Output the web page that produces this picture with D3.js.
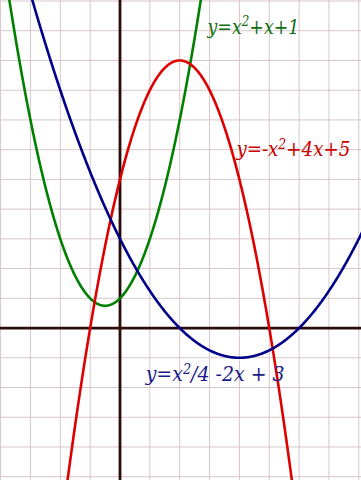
<!DOCTYPE html>
<html>
<head>
<meta charset="utf-8">
<script src="https://cdn.jsdelivr.net/npm/d3@7"></script>
<style>
  html, body { margin: 0; padding: 0; background: #fff; }
  svg { display: block; }
  .grid line { stroke: #d8c6c9; stroke-width: 1; }
  .axis { stroke: #2b0b0b; stroke-width: 2.8; }
  .curve { fill: none; stroke-width: 2.6; }
  .label { font-family: 'DejaVu Serif', serif; font-style: italic; font-size: 20.5px; }
</style>
</head>
<body>
<script>
// Plot window (units) and grid ticks
var xDomain = [-4, 8];
var yDomain = [11, -5];
var xTicks = d3.range(-4, 9);
var yTicks = d3.range(-5, 12);

// Polynomial coefficients [a, b, c] for y = a*x^2 + b*x + c
var names = ['green', 'red', 'blue'];
var coefs = [[1, 1, 1], [-1, 4, 5], [0.25, -2, 3]];
var colors = ['#008000', '#dd0000', '#000088'];
var textColors = ['#0f6e0f', '#c80000', '#1a1a8a'];

// Labels: [before sup, sup, after sup]
var labels = [
  ['y=x', '2', '+x+1'],
  ['y=-x', '2', '+4x+5'],
  ['y=x', '2', '/4 -2x + 3']
];
// label anchor (baseline start) in plot units
var labelPos = [[2.93, 9.9], [3.9, 5.78], [0.86, -1.79]];
// label widths in px
var labelWidths = [92, 114, 139];

var width = 361, height = 480;

var svg = d3.select('body').append('svg')
  .attr('width', width)
  .attr('height', height);

var x = d3.scaleLinear().domain(xDomain).range([0.6, 358.8]);
var y = d3.scaleLinear().domain(yDomain).range([1, 476.7]);

// Grid
var grid = svg.append('g').attr('class', 'grid');
grid.selectAll('line.v')
  .data(xTicks)
  .enter()
  .append('line')
  .attr('class', 'v')
  .attr('x1', (d) => x(d)).attr('x2', (d) => x(d))
  .attr('y1', 0).attr('y2', height);
grid.selectAll('line.h')
  .data(yTicks)
  .enter()
  .append('line')
  .attr('class', 'h')
  .attr('y1', (d) => y(d)).attr('y2', (d) => y(d))
  .attr('x1', 0).attr('x2', width);

// Axes
svg.append('line').attr('class', 'axis')
  .attr('x1', 0).attr('x2', width)
  .attr('y1', y(0)).attr('y2', y(0));
svg.append('line').attr('class', 'axis')
  .attr('x1', x(0)).attr('x2', x(0))
  .attr('y1', 0).attr('y2', height);

// Curves
svg.append('clipPath').attr('id', 'clip')
  .append('rect').attr('width', width).attr('height', height);

var xs = d3.range(-4.2, 8.4, 0.02);
var line = d3.line()
  .x((d) => x(d[0]))
  .y((d) => y(d[1]));

svg.append('g')
  .attr('clip-path', 'url(#clip)')
  .selectAll('path')
  .data(coefs)
  .enter()
  .append('path')
  .attr('class', (d, i) => 'curve ' + names[i])
  .attr('stroke', (d, i) => colors[i])
  .attr('d', (c) => line(xs.map((v) => [v, c[0] * v * v + c[1] * v + c[2]])));

// Labels
var t = svg.selectAll('text.label')
  .data(labels)
  .enter()
  .append('text')
  .attr('class', 'label')
  .attr('fill', (d, i) => textColors[i])
  .attr('x', (d, i) => x(labelPos[i][0]))
  .attr('y', (d, i) => y(labelPos[i][1]));
t.append('tspan').text((d) => d[0]);
t.append('tspan').attr('dy', -7.5).attr('font-size', '14px').text((d) => d[1]);
t.append('tspan').attr('dy', 7.5).text((d) => d[2]);

// squeeze each label to the width seen in the picture
t.each(function (d, i) {
  var w = this.getComputedTextLength();
  var s = labelWidths[i] / w;
  var x0 = x(labelPos[i][0]);
  d3.select(this).attr('transform',
    'translate(' + x0 + ',0) scale(' + s + ',1) translate(' + (-x0) + ',0)');
});
</script>
</body>
</html>
